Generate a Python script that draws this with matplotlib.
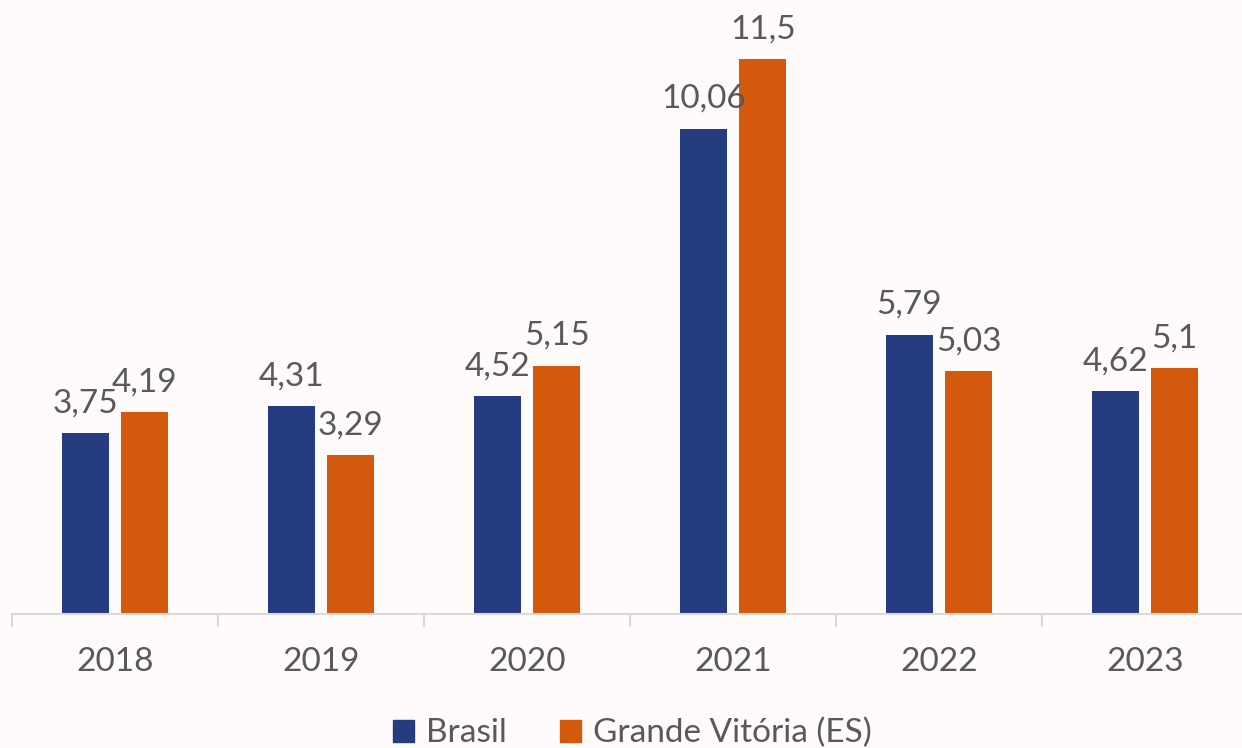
import numpy as np
import matplotlib.pyplot as plt
from matplotlib.patches import Patch

plt.rcParams['font.family'] = ['Lato', 'DejaVu Sans']

years = ['2018', '2019', '2020', '2021', '2022', '2023']
brasil = [3.75, 4.31, 4.52, 10.06, 5.79, 4.62]
grande_vitoria = [4.19, 3.29, 5.15, 11.5, 5.03, 5.1]
series_names = ['Brasil', 'Grande Vitória (ES)']

blue = '#253c80'
orange = '#d35a0c'
text_color = '#595959'
bg = '#fefbfa'


def fmt(v):
    return f'{v:g}'.replace('.', ',')


fig = plt.figure(figsize=(12.42, 7.48), dpi=100, facecolor=bg)
ax = fig.add_axes([0.0097, 0.179, 0.9952, 0.821])
ax.set_facecolor(bg)

x = np.arange(len(years))
w = 0.227
off = 0.144
b1 = ax.bar(x - off, brasil, w, color=blue)
b2 = ax.bar(x + off, grande_vitoria, w, color=orange)

for bars, vals in ((b1, brasil), (b2, grande_vitoria)):
    for rect, v in zip(bars, vals):
        ax.annotate(fmt(v), (rect.get_x() + rect.get_width() / 2, v),
                    xytext=(0, 15), textcoords='offset points',
                    ha='center', va='baseline', fontsize=24, color=text_color)

ax.set_xlim(-0.5, len(years) - 0.5)
ax.set_ylim(0, 12.73)
ax.set_yticks([])
for s in ('left', 'right', 'top'):
    ax.spines[s].set_visible(False)
ax.spines['bottom'].set_color('#d9d9d9')
ax.spines['bottom'].set_linewidth(1.5)

ax.set_xticks(x)
ax.set_xticklabels(years, fontsize=24, color=text_color)
ax.tick_params(axis='x', which='major', length=0, pad=24)
ax.set_xticks(np.arange(-0.5, len(years)), minor=True)
ax.tick_params(axis='x', which='minor', length=9.5, width=1.5, color='#d9d9d9')

handles = [Patch(color=blue), Patch(color=orange)]
fig.legend(handles, series_names, loc='lower center', bbox_to_anchor=(0.509, -0.005),
           ncol=2, frameon=False, fontsize=24, labelcolor=text_color,
           handlelength=0.64, handleheight=0.64, handletextpad=0.35,
           columnspacing=1.6, borderaxespad=0, borderpad=0.1)

fig.savefig('out.png', dpi=100, facecolor=bg)
